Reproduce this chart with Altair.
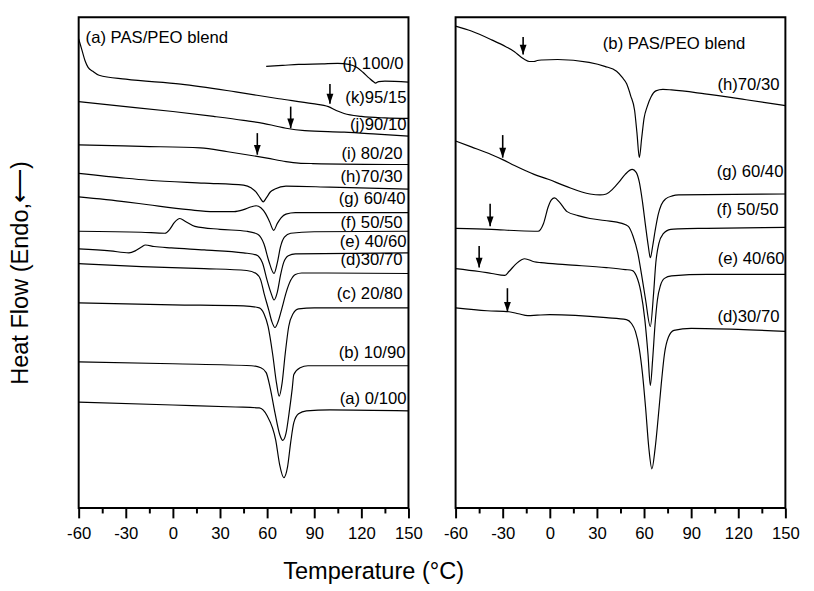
import altair as alt
import pandas as pd

FONT = "Liberation Sans"

# ---------------- Panel (a): temperature (°C) / heat-flow offset (a.u., endo down) -------------
a_j100_T = [59.4, 70, 80, 95, 105, 112, 117, 121, 125, 128, 129, 131, 135, 150]
a_j100_H = [62, 61, 60, 59.5, 59, 60, 63, 68, 74, 78, 79, 77.5, 77, 78]

a_k95_T = [-60, -58, -56, -54, -51, -47, -30, 5, 40, 67.5, 89, 99, 104, 109, 120, 135, 150]
a_k95_H = [34, 45, 56, 63, 67, 71, 75, 80, 88, 95, 100, 103, 107, 110, 113, 114.5, 115]

a_j90_T = [-60, -36, 0, 26, 45, 57.5, 66, 72, 84, 109, 130, 150]
a_j90_H = [98, 102, 108, 113, 117, 120, 123, 125, 127.5, 129, 131, 133]

a_i80_T = [-60, -20, 17.5, 35, 47, 60, 72, 80, 89, 150]
a_i80_H = [142, 143.5, 145, 149, 152, 155.5, 159, 160.5, 161, 162]

a_h70_T = [-60, -30, -15.6, 20, 45, 50, 53, 55.5, 57.5, 59.5, 62, 65, 72, 100, 150]
a_h70_H = [171, 176, 178, 181, 183, 186, 190, 196, 200, 196, 190, 187, 184, 185, 187]

a_g60_T = [-60, -30, -15.6, 10, 26, 39, 45, 50, 53, 56, 59, 61.5, 64.2, 66.5, 69, 72, 78, 150]
a_g60_H = [195, 200, 203, 208, 210, 210, 208, 205, 204, 206, 212, 220, 229, 222, 216, 212.5, 211, 211]

a_f50_T = [-60, -20, -5, -2, 1, 4.4, 8, 14, 30, 47, 54, 58, 61, 64.4, 66.5, 68.5, 71, 75, 90, 150]
a_f50_H = [230, 231, 232, 228, 221, 217, 220, 225, 228, 230, 233, 243, 260, 273, 262, 246, 236, 232, 230.5, 230]

a_e40_T = [-60, -40, -28, -24, -20, -17.5, -12, -1, 20, 45, 53, 57, 60, 62.5, 64.4, 66.5, 68.5, 70.5, 73.5, 78, 150]
a_e40_H = [248, 250, 252, 250, 246, 244, 245.5, 247, 249, 252, 254, 262, 280, 293, 300, 292, 275, 262, 255, 253, 252]

a_d30_T = [-60, -20, 20, 47, 53, 56, 58, 61, 63, 65, 67, 69.5, 72, 75, 78, 82, 150]
a_d30_H = [263, 266, 268, 270, 273, 280, 293, 310, 322, 328, 322, 308, 293, 280, 274, 272.5, 273]

a_c20_T = [-60, 0, 45, 55, 58, 60.6, 63.5, 66, 67.7, 69.5, 71.5, 73.75, 76.5, 80, 90, 150]
a_c20_H = [303, 305, 306, 308, 314, 327, 355, 385, 398, 385, 355, 327, 314, 309, 308, 308]

a_b10_T = [-60, 0, 50, 56, 59.4, 62, 65, 68, 70, 72, 74, 76, 77, 81, 86, 100, 150]
a_b10_H = [363, 365, 367, 369, 374, 390, 415, 437, 443, 436, 415, 390, 376, 369, 367, 367, 367]

a_a0_T = [-60, 0, 40, 55, 60, 65.5, 68, 70.6, 73, 75, 77, 80, 85, 100, 150]
a_a0_H = [404, 407, 409, 410, 418, 443, 468, 481, 470, 445, 425, 416, 413, 412, 413]

# glass-transition arrows (a): temperature, arrow top, arrow tip
a_arrow_T = [100, 75, 53.75]
a_arrow_top = [80, 103, 130]
a_arrow_tip = [100, 125, 152]

a_label_text = ["(j) 100/0", "(k)95/15", "(j)90/10", "(i) 80/20", "(h)70/30", "(g) 60/40",
                "(f) 50/50", "(e) 40/60", "(d)30/70", "(c) 20/80", "(b) 10/90", "(a) 0/100"]
a_label_T = [146.9, 148.75, 148.75, 146.25, 146.25, 148.1, 146.25, 148.75, 146.25, 146.25, 148.1, 148.75]
a_label_H = [65, 99, 127, 156, 180, 202, 227, 246, 264, 299, 359, 406]

# ---------------- Panel (b) -------------
b_h70_T = [-60, -50, -37, -28, -22.5, -18, -16, -13, -10, -8, -5, 5, 25, 35, 42.5, 46, 49, 51.5, 54,
           55.5, 57, 58.5, 60, 62, 64.5, 67.5, 72, 77.5, 98.75, 125, 150]
b_h70_H = [21, 26, 35, 42, 47, 53, 55, 57, 57, 56, 55.5, 55, 58, 62, 67, 73, 80, 92, 107,
           130, 155, 135, 115, 103, 93, 87, 85.5, 86, 90, 96, 102]

b_g60_T = [-60, -50, -37, -30, -22.5, -10, -1, 10, 25.6, 32, 36, 40, 44, 48, 52.5, 55, 57, 59, 61,
           62.7, 64, 65.5, 67, 69, 71, 73.75, 78, 82, 150]
b_g60_H = [138, 144, 152, 157, 163, 172, 177, 184, 192, 193, 192, 187, 180, 172, 167, 170, 180, 200, 225,
           245, 257, 245, 230, 213, 203, 197, 194, 193, 192]

b_f50_T = [-60, -37, -20, -7.5, -4, -1, 1, 3, 6, 11, 18, 25.6, 35, 46, 50, 53, 56, 58.5, 61, 64,
           66, 67.5, 69.5, 72, 77, 82, 100, 150]
b_f50_H = [227, 228, 229.5, 230, 222, 205, 198, 196, 200, 210, 214, 217, 219, 222, 225, 235, 252, 275, 300, 327,
           295, 262, 242, 233, 228, 227.5, 227, 226]

b_e40_T = [-60, -45, -37, -28.75, -26, -22, -18, -16, -10, -5.6, 10, 36, 48, 52.5, 55, 58, 60.5, 62.5,
           64, 65.5, 67, 68.5, 70.5, 73, 77.5, 100, 150]
b_e40_H = [268, 271, 273, 275, 271, 264, 259, 258, 261, 262, 264, 267, 269, 270, 275, 292, 320, 355,
           387, 360, 325, 300, 285, 278, 275.5, 274, 274]

b_d30_T = [-60, -40, -26, -20, -14, -8, 0, 36, 48.75, 52, 54.5, 57, 59, 61, 63, 65, 67, 69, 71, 73,
           75.5, 79, 90, 120, 150]
b_d30_H = [308, 311, 312, 314, 316, 315.5, 315, 318, 320, 324, 332, 350, 375, 410, 450, 472, 452, 420, 385, 355,
           338, 331, 329, 330, 332]

b_arrow_T = [-17, -30, -38, -45, -27]
b_arrow_top = [32, 132, 202, 245, 288]
b_arrow_tip = [50, 155, 225, 267, 312]

b_label_text = ["(h)70/30", "(g) 60/40", "(f) 50/50", "(e) 40/60", "(d)30/70"]
b_label_T = [146.25, 148.75, 145.6, 149.4, 146.25]
b_label_H = [86, 175, 213, 263, 322]

panel_titles = ["(a) PAS/PEO blend", "(b) PAS/PEO blend"]
panel_title_T = [-55.6, 33.75]
panel_title_H = [38, 44]

x_ticks = [-60, -45, -30, -15, 0, 15, 30, 45, 60, 75, 90, 105, 120, 135, 150]


def curves_df(curves):
    rows = []
    for name, T, H in curves:
        for i, (t, h) in enumerate(zip(T, H)):
            rows.append({"curve": name, "T": t, "H": h, "i": i})
    return pd.DataFrame(rows)


a_curves = curves_df([
    ("j100", a_j100_T, a_j100_H), ("k95", a_k95_T, a_k95_H), ("j90", a_j90_T, a_j90_H),
    ("i80", a_i80_T, a_i80_H), ("h70", a_h70_T, a_h70_H), ("g60", a_g60_T, a_g60_H),
    ("f50", a_f50_T, a_f50_H), ("e40", a_e40_T, a_e40_H), ("d30", a_d30_T, a_d30_H),
    ("c20", a_c20_T, a_c20_H), ("b10", a_b10_T, a_b10_H), ("a0", a_a0_T, a_a0_H),
])
b_curves = curves_df([
    ("h70", b_h70_T, b_h70_H), ("g60", b_g60_T, b_g60_H), ("f50", b_f50_T, b_f50_H),
    ("e40", b_e40_T, b_e40_H), ("d30", b_d30_T, b_d30_H),
])

a_arrows = pd.DataFrame({"T": a_arrow_T, "H": a_arrow_top, "H2": a_arrow_tip})
b_arrows = pd.DataFrame({"T": b_arrow_T, "H": b_arrow_top, "H2": b_arrow_tip})
a_labels = pd.DataFrame({"T": a_label_T, "H": a_label_H, "text": a_label_text})
b_labels = pd.DataFrame({"T": b_label_T, "H": b_label_H, "text": b_label_text})
titles_a = pd.DataFrame({"T": [panel_title_T[0]], "H": [panel_title_H[0]], "text": [panel_titles[0]]})
titles_b = pd.DataFrame({"T": [panel_title_T[1]], "H": [panel_title_H[1]], "text": [panel_titles[1]]})


def make_panel(cdf, adf, ldf, tdf, first):
    xs = alt.Scale(domain=[-60, 150], nice=False, zero=False)
    ys = alt.Scale(domain=[12, 512], reverse=True, nice=False, zero=False)
    xaxis = alt.Axis(
        values=x_ticks,
        labelExpr="datum.value % 30 === 0 ? '' + datum.value : ''",
        tickSize={"condition": {"test": "datum.value % 30 === 0", "value": 10}, "value": 5},
        tickWidth=2, tickColor="black", domain=False, grid=False,
        labelFont=FONT, labelFontSize=17, labelColor="black", labelPadding=8,
        labelFlush=False, labelOverlap=False,
        title="Temperature (°C)" if first else None,
        titleFont=FONT, titleFontSize=24, titleFontWeight="normal", titleColor="black",
        titleX=300, titleY=72, titleAlign="center", titleBaseline="alphabetic",
    )
    if first:
        yaxis = alt.Axis(
            title="Heat Flow (Endo,⟵)", labels=False, ticks=False, domain=False, grid=False,
            titleFont=FONT, titleFontSize=24, titleFontWeight="normal", titleColor="black",
            titleAngle=270, titleX=-59, titleY=260, titleAlign="center", titleBaseline="middle",
        )
    else:
        yaxis = None
    X = alt.X("T:Q", scale=xs, axis=xaxis)
    Y = alt.Y("H:Q", scale=ys, axis=yaxis)

    lines = alt.Chart(cdf).mark_line(interpolate="monotone", color="black", strokeWidth=1.2).encode(
        x=X, y=Y, detail="curve:N", order="i:Q")
    rules = alt.Chart(adf).mark_rule(color="black", strokeWidth=1.6).encode(x=X, y=Y, y2=alt.Y2("H2:Q"))
    heads = alt.Chart(adf).mark_point(shape="M-0.7,-2L0.7,-2L0,0Z", filled=True, color="black",
                                      size=100, opacity=1, strokeWidth=0).encode(
        x=X, y=alt.Y("H2:Q", scale=ys, axis=yaxis))
    labels = alt.Chart(ldf).mark_text(align="right", baseline="alphabetic", font=FONT, fontSize=17,
                                      color="black").encode(x=X, y=Y, text="text:N")
    ttl = alt.Chart(tdf).mark_text(align="left", baseline="alphabetic", font=FONT, fontSize=17,
                                   color="black").encode(x=X, y=Y, text="text:N")
    return alt.layer(lines, rules, heads, labels, ttl).properties(width=336, height=500)


pa = make_panel(a_curves, a_arrows, a_labels, titles_a, True)
pb = make_panel(b_curves, b_arrows, b_labels, titles_b, False)

chart = alt.hconcat(pa, pb, spacing=48, bounds="flush").properties(
    padding={"left": 0, "top": 3, "right": 5, "bottom": 0},
    background="white",
).configure_view(stroke="black", strokeWidth=2)

chart.save("out.html", embed_options={"renderer": "svg", "actions": False})
